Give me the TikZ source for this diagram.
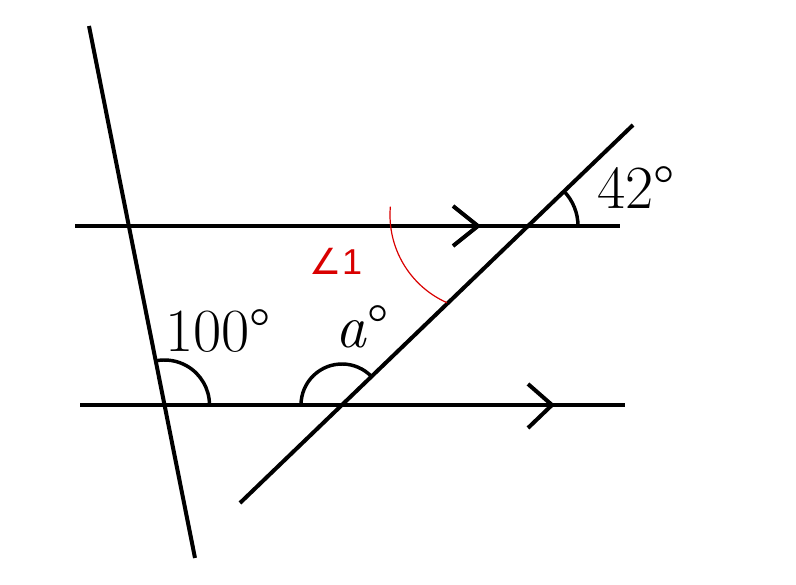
\documentclass[tikz,border=0pt]{standalone}
\usepackage{fontspec}
\newfontfamily\anglefont{DejaVu Sans}
\newfontfamily\digitfont{Liberation Sans}
\usetikzlibrary{positioning}

\begin{document}
\begin{tikzpicture}[x=0.75pt, y=0.75pt, line width=3pt,
  angarc/.style={line width=2.6pt},
  chevron/.style={line width=3pt, line join=miter},
  deglabel/.style={font=\fontsize{46}{46}\selectfont, inner sep=0pt},
  redmark/.style={red!85!black, line width=0.9pt}]
  \useasboundingbox (0,0) rectangle (796,585);
  % intersection points
  \coordinate (T) at (528,359);
  \coordinate (B) at (342,180);
  \coordinate (S) at (164.5,180);
  % lines
  \draw (89,559) coordinate (steepA) -- (195,27) coordinate (steepB);
  \draw (75,359) coordinate (topL) -- (620,359) coordinate (topR);
  \draw (80,180) coordinate (botL) -- (625,180) coordinate (botR);
  \draw (240,82) coordinate (diagA) -- (633,460) coordinate (diagB);
  % parallel marks
  \draw [chevron] (453,379) -- (478,359) coordinate (topTip) -- (453,339);
  \draw [chevron] (528,201) -- (552,180) coordinate (botTip) -- (528,157);
  % angles
  \draw [angarc] (T) ++(50,0) arc (0:43.9:50);
  \draw [angarc] (S) ++(45,0) arc (0:101.3:45);
  \draw [angarc] (B) ++(43.9:41) arc (43.9:180:41);
  \draw [redmark] (486,370) ++(175:96) arc (175:246:96);
  % labels
  \node [deglabel] (l42) at (636,397) {42°};
  \node [deglabel] (l100) at (218,254) {100°};
  \node [deglabel] (la) at (362,258) {\textit{a}°};
  \node [red!85!black, font=\fontsize{27}{27}\selectfont, inner sep=0pt] (l1) at (336,324) {{\anglefont ∠}{\digitfont 1}};
\end{tikzpicture}
\end{document}
